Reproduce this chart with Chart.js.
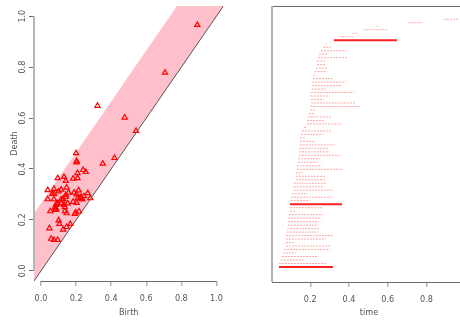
<!DOCTYPE html>
<html>
<head>
<meta charset="utf-8">
<script src="https://cdn.jsdelivr.net/npm/chart.js@4/dist/chart.umd.min.js"></script>
<style>
  html, body { margin: 0; padding: 0; background: #ffffff; }
  #wrap { position: relative; width: 460px; height: 324px; overflow: hidden; }
  #diag { position: absolute; left: 0; top: 0; }
  #bars { position: absolute; left: 230px; top: 0; }
</style>
</head>
<body>
<div id="wrap">
  <canvas id="diag" width="230" height="324"></canvas>
  <canvas id="bars" width="236" height="324"></canvas>
</div>
<script>
// Persistence features, listed in barcode order (bottom bar first).
const births = [
  0.038, 0.038, 0.048, 0.053, 0.058, 0.064, 0.074, 0.074, 0.074, 0.074,
  0.080, 0.080, 0.085, 0.085, 0.085, 0.090, 0.095, 0.095, 0.095, 0.100,
  0.100, 0.105, 0.115, 0.115, 0.115, 0.126, 0.126, 0.126, 0.131, 0.131,
  0.136, 0.136, 0.141, 0.141, 0.141, 0.146, 0.146, 0.146, 0.152, 0.157,
  0.167, 0.183, 0.183, 0.188, 0.193, 0.198, 0.200, 0.203, 0.203, 0.203,
  0.203, 0.208, 0.208, 0.208, 0.214, 0.217, 0.222, 0.229, 0.234, 0.234,
  0.240, 0.245, 0.255, 0.266, 0.281, 0.322, 0.352, 0.419, 0.477, 0.542,
  0.707, 0.891
];
const deaths = [
  0.317, 0.281, 0.167, 0.234, 0.126, 0.302, 0.302, 0.121, 0.281, 0.322,
  0.240, 0.250, 0.240, 0.245, 0.259, 0.265, 0.121, 0.265, 0.364, 0.198,
  0.312, 0.184, 0.319, 0.265, 0.281, 0.281, 0.281, 0.162, 0.369, 0.259,
  0.234, 0.250, 0.353, 0.298, 0.290, 0.327, 0.226, 0.172, 0.265, 0.307,
  0.184, 0.362, 0.271, 0.307, 0.224, 0.229, 0.462, 0.431, 0.267, 0.300,
  0.426, 0.284, 0.364, 0.384, 0.316, 0.233, 0.286, 0.291, 0.281, 0.281,
  0.396, 0.293, 0.388, 0.305, 0.285, 0.648, 0.421, 0.443, 0.602, 0.549,
  0.778, 0.966
];
// Half-width of the confidence band around the diagonal
const bandWidth = 0.265;

const diagTicks = [0, 0.2, 0.4, 0.6, 0.8, 1.0];
const timeTicks = [0.2, 0.4, 0.6, 0.8];

const FONT = '"Liberation Sans Narrow", "DejaVu Sans Condensed", "Liberation Sans", Arial, sans-serif';
const INK = '#555555';
const HLINE = '#6a6a6a';
const VLINE = '#b4b4b4';
const lo = -0.04, hi = 1.04;

Chart.defaults.font.family = FONT;
Chart.defaults.font.size = 9;
Chart.defaults.color = INK;

const fixedTicks = vals => scale => { scale.ticks = vals.map(v => ({ value: v })); };

// R-style axis lines that only run between the first and last tick
const axisSpan = {
  id: 'axisSpan',
  afterDraw(chart) {
    const { ctx, chartArea, scales } = chart;
    ctx.save();
    ctx.strokeStyle = HLINE;
    ctx.lineWidth = 1;
    ctx.beginPath();
    ctx.moveTo(scales.x.getPixelForValue(diagTicks[0]), chartArea.bottom + 0.5);
    ctx.lineTo(scales.x.getPixelForValue(diagTicks[diagTicks.length - 1]), chartArea.bottom + 0.5);
    ctx.stroke();
    ctx.strokeStyle = VLINE;
    ctx.lineWidth = 2;
    ctx.beginPath();
    ctx.moveTo(chartArea.left, scales.y.getPixelForValue(diagTicks[0]));
    ctx.lineTo(chartArea.left, scales.y.getPixelForValue(diagTicks[diagTicks.length - 1]));
    ctx.stroke();
    ctx.restore();
  }
};

const diagramPoints = births.map((b, i) => ({ x: b, y: deaths[i] }));

new Chart(document.getElementById('diag'), {
  type: 'scatter',
  data: {
    datasets: [
      {
        data: diagramPoints,
        pointStyle: 'triangle',
        pointRadius: 3,
        pointHoverRadius: 3,
        borderColor: '#ff0000',
        backgroundColor: 'rgba(0,0,0,0)',
        borderWidth: 1.2,
        order: 0
      },
      {
        type: 'line',
        showLine: true,
        data: [{ x: lo, y: lo }, { x: hi, y: hi }],
        borderColor: '#555555',
        borderWidth: 1,
        pointRadius: 0,
        fill: false,
        order: 1
      },
      {
        type: 'line',
        showLine: true,
        data: [{ x: lo, y: lo + bandWidth }, { x: hi, y: hi + bandWidth }],
        borderColor: 'rgba(0,0,0,0)',
        borderWidth: 0,
        backgroundColor: '#ffc0cb',
        pointRadius: 0,
        fill: 1,
        order: 2
      }
    ]
  },
  options: {
    responsive: false,
    animation: false,
    events: [],
    layout: { padding: { left: 0, right: 4, top: 6, bottom: 0 } },
    plugins: { legend: { display: false }, tooltip: { enabled: false } },
    scales: {
      x: {
        type: 'linear', min: lo, max: hi,
        afterBuildTicks: fixedTicks(diagTicks),
        afterFit: s => { s.height = 43; },
        ticks: { callback: v => v.toFixed(1), padding: 7, maxRotation: 0, autoSkip: false },
        grid: { drawOnChartArea: false, drawTicks: true, tickLength: 5, color: VLINE, lineWidth: 1.5 },
        border: { display: false },
        title: { display: true, text: 'Birth', padding: { top: 0, bottom: 6 } }
      },
      y: {
        type: 'linear', min: lo, max: hi,
        afterBuildTicks: fixedTicks(diagTicks),
        afterFit: s => { s.width = 34; },
        ticks: { callback: v => v.toFixed(1), padding: 0, minRotation: 90, maxRotation: 90, crossAlign: 'center', autoSkip: false },
        grid: { drawOnChartArea: false, drawTicks: true, tickLength: 5, color: HLINE },
        border: { display: false },
        title: { display: true, text: 'Death', padding: { top: 9, bottom: 0 } }
      }
    }
  },
  plugins: [axisSpan]
});

// Barcode: one horizontal bar per feature, stacked upward in list order
const thinBars = [];
const thickBars = [];
births.forEach((b, i) => {
  const target = (deaths[i] - b > bandWidth) ? thickBars : thinBars;
  target.push({ x: b, y: i + 1 }, { x: deaths[i], y: i + 1 }, { x: null, y: null });
});

const frame = {
  id: 'frame',
  afterDraw(chart) {
    const { ctx, chartArea } = chart;
    ctx.save();
    ctx.strokeStyle = HLINE;
    ctx.lineWidth = 1;
    ctx.beginPath();
    ctx.moveTo(chartArea.left, chartArea.top + 0.5);
    ctx.lineTo(chartArea.right, chartArea.top + 0.5);
    ctx.stroke();
    ctx.strokeStyle = VLINE;
    ctx.lineWidth = 2;
    ctx.beginPath();
    ctx.moveTo(chartArea.left, chartArea.top);
    ctx.lineTo(chartArea.left, chartArea.bottom);
    ctx.stroke();
    ctx.restore();
  }
};

new Chart(document.getElementById('bars'), {
  type: 'line',
  data: {
    datasets: [
      {
        data: thinBars,
        borderColor: 'rgba(255,50,50,0.42)',
        borderWidth: 1,
        borderDash: [2, 1],
        pointRadius: 0,
        spanGaps: false,
        fill: false
      },
      {
        data: thickBars,
        borderColor: '#ff2020',
        borderWidth: 2,
        pointRadius: 0,
        spanGaps: false,
        fill: false
      }
    ]
  },
  options: {
    responsive: false,
    animation: false,
    events: [],
    layout: { padding: { left: 42, right: 0, top: 6, bottom: 0 } },
    plugins: { legend: { display: false }, tooltip: { enabled: false } },
    scales: {
      x: {
        type: 'linear', min: 0.002, max: 1.005,
        afterBuildTicks: fixedTicks(timeTicks),
        afterFit: s => { s.height = 42; },
        ticks: { callback: v => v.toFixed(1), padding: 7, maxRotation: 0, autoSkip: false },
        grid: { drawOnChartArea: false, drawTicks: true, tickLength: 5, color: VLINE, lineWidth: 1.5 },
        border: { display: true, color: HLINE, width: 1 },
        title: { display: true, text: 'time', padding: { top: 0, bottom: 6 } }
      },
      y: { type: 'linear', display: false, min: -3.3, max: 75.8 }
    }
  },
  plugins: [frame]
});
</script>
</body>
</html>
